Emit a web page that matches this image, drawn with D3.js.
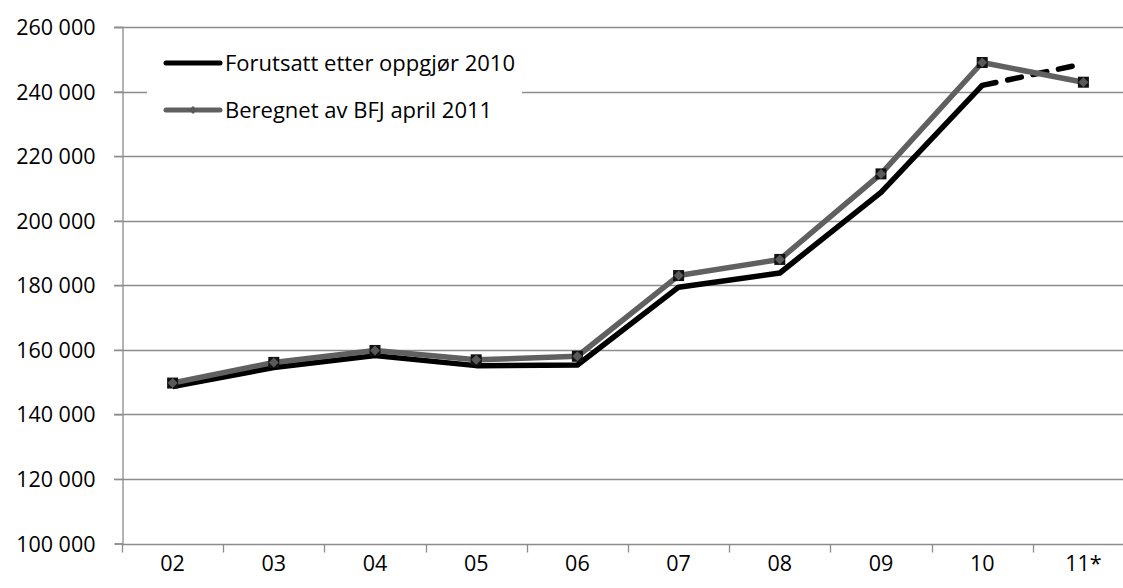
<!DOCTYPE html>
<html>
<head>
<meta charset="utf-8">
<script src="https://cdn.jsdelivr.net/npm/d3@7"></script>
<style>
  body { margin: 0; background: #fff; }
  svg text { font-family: "Open Sans", sans-serif; fill: #000; }
</style>
</head>
<body>
<div id="chart"></div>
<script>
// data
var years = ["02", "03", "04", "05", "06", "07", "08", "09", "10", "11*"];
var forutsatt = [148600, 154500, 158200, 155100, 155300, 179400, 183800, 208800, 241900, 248600];
var beregnet = [149700, 156100, 159800, 156900, 158000, 183000, 188000, 214500, 249000, 242900];
var yTicks = [100000, 120000, 140000, 160000, 180000, 200000, 220000, 240000, 260000];
var seriesNames = ["Forutsatt etter oppgjør 2010", "Beregnet av BFJ april 2011"];

var width = 1123, height = 588;
var margin = {left: 122, top: 27, bottom: 45};
var plotRight = 1134; // chart runs past the right edge of the picture

var svg = d3.select("#chart").append("svg")
    .attr("width", width)
    .attr("height", height);

var x = d3.scaleBand()
    .domain(years)
    .range([margin.left, plotRight]);

var y = d3.scaleLinear()
    .domain([100000, 260000])
    .range([height - margin.bottom + 0.5, margin.top]);

var fmt = function(d) { return d3.format(",")(d).replace(/,/g, " "); };

// gridlines
svg.append("g")
  .selectAll("line")
  .data(yTicks.slice(1))
  .enter().append("line")
    .attr("x1", margin.left - 8)
    .attr("x2", width)
    .attr("y1", function(d) { return Math.round(y(d)) + 0.5; })
    .attr("y2", function(d) { return Math.round(y(d)) + 0.5; })
    .attr("stroke", "#8c8c8c")
    .attr("stroke-width", 1.3);

// y axis
var yAxis = svg.append("g")
    .attr("transform", "translate(" + (margin.left + 0.5) + ",0)")
    .call(d3.axisLeft(y).tickValues(yTicks).tickSize(8).tickPadding(19).tickFormat(fmt));
yAxis.selectAll("text").attr("font-size", 21.5).attr("dy", "0.35em");

// x axis
var xAxis = svg.append("g")
    .attr("transform", "translate(0," + (Math.round(y(100000)) + 0.5) + ")")
    .call(d3.axisBottom(x).tickSize(0).tickPadding(11));
xAxis.selectAll("text").attr("font-size", 21.5).attr("dy", "0.71em");
xAxis.select(".domain").attr("d", "M" + margin.left + ",0H" + width);

// category tick marks at band edges
xAxis.selectAll("line.sep")
  .data(years)
  .enter().append("line")
    .attr("class", "sep")
    .attr("x1", function(d) { return Math.round(x(d)) + 0.5; })
    .attr("x2", function(d) { return Math.round(x(d)) + 0.5; })
    .attr("y1", 0).attr("y2", 8);

svg.selectAll(".domain, .tick line, line.sep")
    .attr("stroke", "#8c8c8c")
    .attr("stroke-width", 1.3);

var cx = function(i) { return x(years[i]) + x.bandwidth() / 2; };

var line = d3.line()
    .x(function(d) { return cx(d.i); })
    .y(function(d) { return y(d.v); });

var blackPts = forutsatt.map(function(v, i) { return {i: i, v: v}; });
var greyPts = beregnet.map(function(v, i) { return {i: i, v: v}; });

// black series, solid up to 10 and dashed to 11*
svg.append("path")
    .datum(blackPts.slice(0, 9))
    .attr("fill", "none")
    .attr("stroke", "#000")
    .attr("stroke-width", 5.5)
    .attr("stroke-linejoin", "round")
    .attr("d", line);

svg.append("path")
    .datum(blackPts.slice(8))
    .attr("fill", "none")
    .attr("stroke", "#000")
    .attr("stroke-width", 5.5)
    .attr("stroke-linecap", "round")
    .attr("stroke-dasharray", "14,12")
    .attr("d", line);

// grey series
svg.append("path")
    .datum(greyPts)
    .attr("fill", "none")
    .attr("stroke", "#606060")
    .attr("stroke-width", 5.5)
    .attr("stroke-linejoin", "round")
    .attr("d", line);

var marks = svg.append("g")
  .selectAll("g")
  .data(greyPts)
  .enter().append("g")
    .attr("transform", function(d) { return "translate(" + cx(d.i) + "," + y(d.v) + ")"; });

marks.append("rect")
    .attr("x", -5.5).attr("y", -5.5)
    .attr("width", 11).attr("height", 11)
    .attr("fill", "#111");

marks.append("path")
    .attr("d", "M0,-5L5,0L0,5L-5,0Z")
    .attr("fill", "#595959");

// legend
var legend = svg.append("g");
legend.append("rect")
    .attr("x", 147).attr("y", 40)
    .attr("width", 375).attr("height", 95)
    .attr("fill", "#fff");

var rows = legend.selectAll("g.row")
  .data(seriesNames)
  .enter().append("g")
    .attr("class", "row")
    .attr("transform", function(d, i) { return "translate(166," + (63 + i * 47) + ")"; });

rows.append("line")
    .attr("x1", 0).attr("x2", 54)
    .attr("stroke", function(d, i) { return i === 0 ? "#000" : "#606060"; })
    .attr("stroke-width", 5)
    .attr("stroke-linecap", "round");

rows.filter(function(d, i) { return i === 1; })
  .append("path")
    .attr("d", "M27,-4L31,0L27,4L23,0Z")
    .attr("fill", "#595959");

rows.append("text")
    .attr("x", 59)
    .attr("dy", "0.35em")
    .attr("font-size", 22)
    .text(function(d) { return d; });
</script>
</body>
</html>
